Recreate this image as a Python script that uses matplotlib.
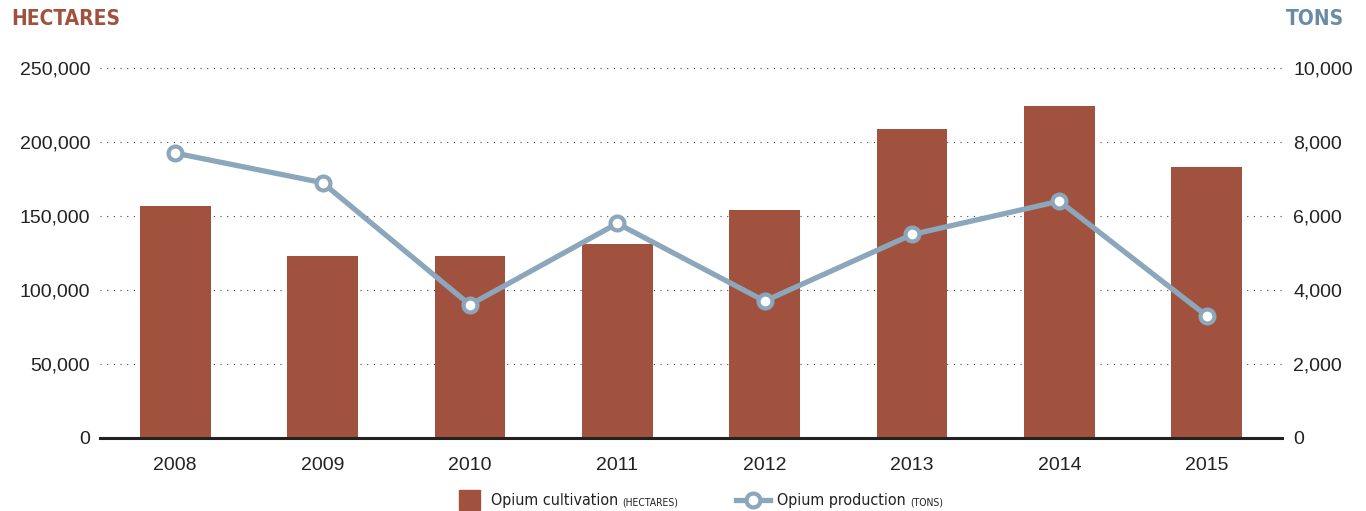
import numpy as np
import matplotlib
matplotlib.use("Agg")
import matplotlib.pyplot as plt
from matplotlib.lines import Line2D
from matplotlib.ticker import FuncFormatter

# ====================================
# DATA
# ====================================

years = ["2008", "2009", "2010", "2011", "2012", "2013", "2014", "2015"]
hectares = [157000, 123000, 123000, 131000, 154000, 209000, 224000, 183000]
tons = [7700, 6900, 3600, 5800, 3700, 5500, 6400, 3300]

left_ticks = [0, 50000, 100000, 150000, 200000, 250000]
right_ticks = [0, 2000, 4000, 6000, 8000, 10000]

BAR_COLOR = "#A0523F"
LINE_COLOR = "#8CA6BB"
TONS_COLOR = "#6A8BA4"
TEXT_COLOR = "#222222"
NUM_FONT = ["Liberation Sans", "DejaVu Sans"]
NARROW = ["DejaVu Sans"]

# ====================================
# FIGURE
# ====================================

fig = plt.figure(figsize=(13.66, 5.11), dpi=100)
ax = fig.add_axes([0.0732, 0.1429, 0.8653, 0.724])
ax2 = ax.twinx()

x = np.arange(len(years))

ax.bar(x, hectares, width=0.48, color=BAR_COLOR, zorder=2)
ax2.plot(x, tons, color=LINE_COLOR, linewidth=3.8, marker="o",
         markersize=10, markerfacecolor="white", markeredgecolor=LINE_COLOR,
         markeredgewidth=3, zorder=3)

ax.set_xlim(-0.51, 7.51)
ax.set_ylim(0, 250000)
ax2.set_ylim(0, 10000)

ax.set_yticks(left_ticks)
ax2.set_yticks(right_ticks)
fmt = FuncFormatter(lambda v, p: f"{int(v):,}")
ax.yaxis.set_major_formatter(fmt)
ax2.yaxis.set_major_formatter(fmt)

ax.set_xticks(x)
ax.set_xticklabels(years)

ax.grid(axis="y", linestyle=(0, (1, 5)), color="#444444", linewidth=0.8, zorder=0)
ax.set_axisbelow(True)

for a in (ax, ax2):
    for side in ("top", "left", "right", "bottom"):
        a.spines[side].set_visible(False)
    a.tick_params(length=0, labelsize=14, labelcolor=TEXT_COLOR)
    for lab in a.get_xticklabels() + a.get_yticklabels():
        lab.set_fontfamily(NUM_FONT)

ax.axhline(0, color="#222222", linewidth=2.2, zorder=4, clip_on=False)
ax.tick_params(axis="y", pad=7)
ax2.tick_params(axis="y", pad=8)
ax.tick_params(axis="x", pad=14, labelsize=14)

# axis titles
fig.text(0.008, 0.963, "HECTARES", color=BAR_COLOR, fontsize=15,
         fontweight="bold", fontfamily=NARROW, fontstretch="condensed",
         va="center", ha="left")
fig.text(0.984, 0.963, "TONS", color=TONS_COLOR, fontsize=15,
         fontweight="bold", fontfamily=NARROW, fontstretch="condensed",
         va="center", ha="right")

# ====================================
# LEGEND
# ====================================

leg_y = 0.0215
fig.patches.append(plt.Rectangle((459 / 1366, leg_y - 0.0205), 21 / 1366, 0.041,
                                 transform=fig.transFigure, color=BAR_COLOR))
fig.lines.append(Line2D([736 / 1366, 770 / 1366], [leg_y, leg_y],
                        transform=fig.transFigure, color=LINE_COLOR,
                        linewidth=3.8))
fig.lines.append(Line2D([753 / 1366], [leg_y], transform=fig.transFigure,
                        color=LINE_COLOR, marker="o", markersize=10,
                        markerfacecolor="white", markeredgewidth=3))

renderer = fig.canvas.get_renderer()
for x0, main, small in [(491 / 1366, "Opium cultivation", "(HECTARES)"),
                        (777 / 1366, "Opium production", "(TONS)")]:
    t = fig.text(x0, leg_y, main, fontfamily=NARROW, fontstretch="condensed",
                 fontsize=11.5, color=TEXT_COLOR, va="center")
    bb = t.get_window_extent(renderer).transformed(fig.transFigure.inverted())
    fig.text(bb.x1 + 0.003, leg_y - 0.004, small, fontfamily=NARROW,
             fontstretch="condensed", fontsize=7.5, color=TEXT_COLOR, va="center")

plt.savefig("out.png", dpi=100)
